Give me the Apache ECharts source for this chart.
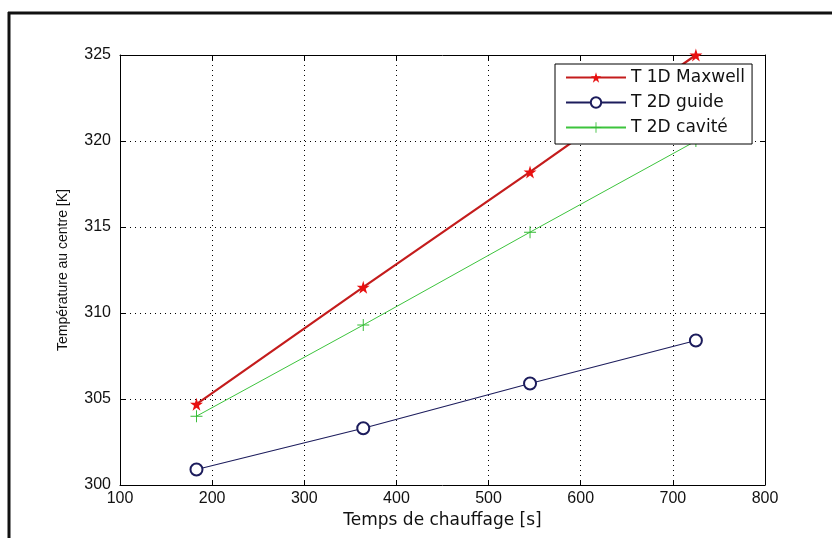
<!DOCTYPE html>
<html><head><meta charset="utf-8">
<script src="https://cdn.jsdelivr.net/npm/echarts@6/dist/echarts.min.js"></script>
<style>html,body{margin:0;padding:0;background:#fff}#c{width:832px;height:538px}</style>
</head><body><div id="c"></div>
<script>
var times = [183, 364, 545, 725];
var maxwell1D = [304.7, 311.5, 318.2, 325.0];
var guide2D = [300.9, 303.3, 305.9, 308.4];
var cavite2D = [304.0, 309.3, 314.7, 320.0];
var seriesNames = ['T 1D Maxwell', 'T 2D guide', 'T 2D cavité'];
var xTicks = [100, 200, 300, 400, 500, 600, 700, 800];
var yTicks = [300, 305, 310, 315, 320, 325];

function pairs(xs, ys){ return xs.map(function(x,i){ return [x, ys[i]]; }); }

var starPath = 'path://M50,0 L61,35 L98,35 L68,57 L79,91 L50,70 L21,91 L32,57 L2,35 L39,35 Z';
var plusPath = 'path://M46,0 H54 V46 H100 V54 H54 V100 H46 V54 H0 V46 H46 Z';
var fontTick = 'Liberation Sans, Arial, sans-serif';
var fontWide = 'DejaVu Sans, sans-serif';

var chart = echarts.init(document.getElementById('c'));
var axisCommon = {
  axisLine: {show: true, onZero: false, lineStyle: {color: '#000', width: 1}},
  axisTick: {show: true, inside: true, length: 5, lineStyle: {color: '#000'}}
};
chart.setOption({
  animation: false,
  backgroundColor: '#fff',
  grid: {left: 120, right: 67, top: 55, bottom: 53},
  graphic: [
    {type: 'line', shape: {x1: 9, y1: 12, x2: 9, y2: 538}, style: {stroke: '#111', lineWidth: 3}},
    {type: 'line', shape: {x1: 8, y1: 13, x2: 832, y2: 13}, style: {stroke: '#111', lineWidth: 3}}
  ],
  xAxis: [
    Object.assign({type: 'value', min: xTicks[0], max: xTicks[xTicks.length-1], interval: 100,
      name: 'Temps de chauffage [s]', nameLocation: 'middle', nameGap: 27,
      nameTextStyle: {fontFamily: fontWide, fontSize: 17, color: '#111'},
      axisLabel: {fontFamily: fontTick, fontSize: 16, color: '#111', margin: 6},
      splitLine: {show: true, lineStyle: {type: [1, 4], color: '#000', width: 1}}}, axisCommon),
    Object.assign({type: 'value', position: 'top', min: xTicks[0], max: xTicks[xTicks.length-1], interval: 100,
      axisLabel: {show: false}, splitLine: {show: false}}, axisCommon)
  ],
  yAxis: [
    Object.assign({type: 'value', min: yTicks[0], max: yTicks[yTicks.length-1], interval: 5,
      name: 'Température au centre [K]', nameLocation: 'middle', nameGap: 50,
      nameTextStyle: {fontFamily: fontTick, fontSize: 14, color: '#111'},
      axisLabel: {fontFamily: fontTick, fontSize: 16, color: '#111', margin: 9},
      splitLine: {show: true, lineStyle: {type: [1, 4], color: '#000', width: 1}}}, axisCommon),
    Object.assign({type: 'value', position: 'right', min: yTicks[0], max: yTicks[yTicks.length-1], interval: 5,
      axisLabel: {show: false}, splitLine: {show: false}}, axisCommon)
  ],
  legend: {
    left: 555, top: 64, orient: 'vertical',
    data: seriesNames,
    backgroundColor: '#fff', borderColor: '#000', borderWidth: 1,
    padding: [5, 7, 8, 10], itemGap: 8, itemWidth: 60, itemHeight: 13,
    textStyle: {fontFamily: fontWide, fontSize: 17, color: '#111'}
  },
  series: [
    {name: seriesNames[0], type: 'line', data: pairs(times, maxwell1D),
     symbol: starPath, symbolSize: 13,
     lineStyle: {color: '#c41c1c', width: 2.2}, itemStyle: {color: '#e81010'}},
    {name: seriesNames[1], type: 'line', data: pairs(times, guide2D),
     symbol: 'emptyCircle', symbolSize: 12,
     lineStyle: {color: '#1c1c5c', width: 1.1}, itemStyle: {color: '#1c1c5c', borderWidth: 1.2}},
    {name: seriesNames[2], type: 'line', data: pairs(times, cavite2D),
     symbol: plusPath, symbolSize: 12,
     lineStyle: {color: '#3dc43d', width: 1}, itemStyle: {color: '#33bb33'}}
  ]
});
</script></body></html>
